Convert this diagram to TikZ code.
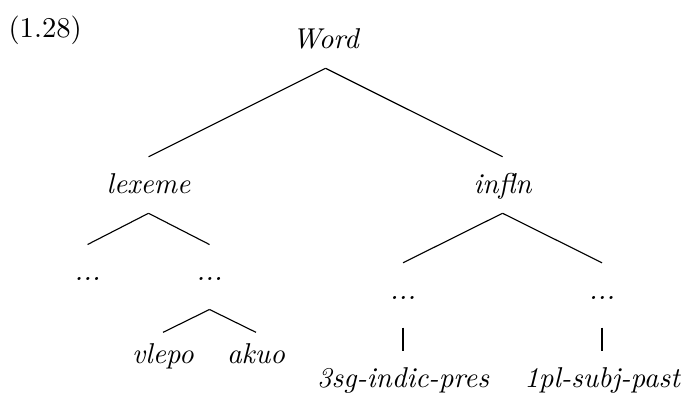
\documentclass[tikz,border=0pt]{standalone}
\begin{document}
\begin{tikzpicture}[
        every node/.style={font=\fontsize{10.2}{12}\selectfont\itshape, inner sep=0pt, text height=12.7pt, text depth=7pt},
        dots/.style={text depth=10pt},
        leaf/.style={text height=11pt},
        edge from parent path={(\tikzparentnode.south) -- (\tikzchildnode.north)},
        bar/.style={edge from parent/.append style={line width=0.8pt}}
    ]
    \useasboundingbox (0,0) rectangle (8.525,-4.9);
    \node [font=\fontsize{10.2}{12}\selectfont\upshape, anchor=base west] (num) at (0.1,-0.4625) {(1.28)};
    % main tree
    \node (Word) at (4.069,-0.5) {Word}
        child [sibling distance=4.425cm, level distance=1.8125cm] { node (lexeme) {lexeme}
            child [sibling distance=1.525cm, level distance=1.15cm] { node [dots] (dotsA) {...} }
            child [sibling distance=1.525cm, level distance=1.15cm] { node [dots] (dotsB) {...}
                child [sibling distance=1.1625cm, level distance=1.015cm] { node [leaf] (vlepo) {vlepo} }
                child [sibling distance=1.1625cm, level distance=1.015cm] { node [leaf] (akuo) {akuo} }
            }
        }
        child [sibling distance=4.425cm, level distance=1.8125cm] { node (infln) {infln}
            child [sibling distance=2.4875cm, level distance=1.378cm] { node [dots] (dotsC) {...}
                child [bar, level distance=1.0475cm] { node (sg) {3sg-indic-pres} }
            }
            child [sibling distance=2.4875cm, level distance=1.378cm] { node [dots] (dotsD) {...}
                child [bar, level distance=1.0475cm] { node (pl) {1pl-subj-past} }
            }
        };
\end{tikzpicture}
\end{document}
